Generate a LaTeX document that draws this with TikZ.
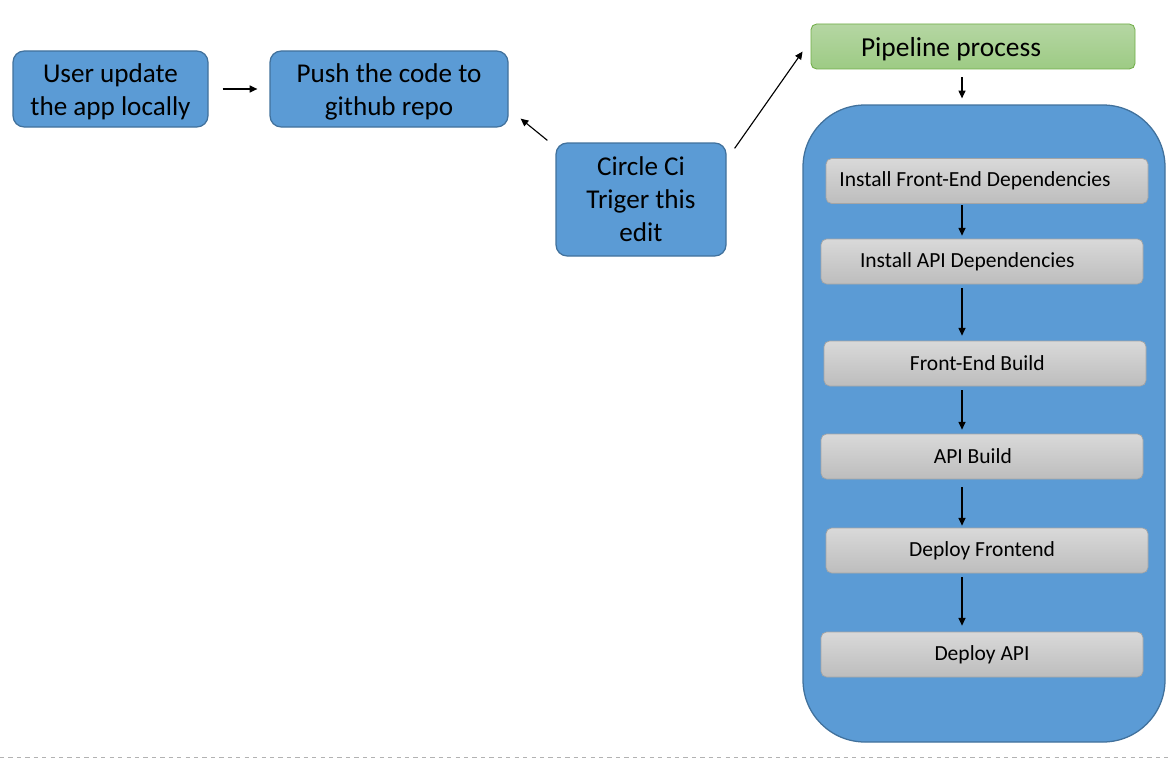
\documentclass[tikz,border=0pt]{standalone}
\usepackage{fontspec}
\setmainfont{Carlito}
\usetikzlibrary{arrows.meta}
\definecolor{boxblue}{HTML}{5B9BD5}
\definecolor{edgeblue}{HTML}{41719C}
\definecolor{greentop}{HTML}{B5D6A3}
\definecolor{greenbot}{HTML}{9DCB84}
\definecolor{greenedge}{HTML}{70AD47}
\definecolor{graytop}{HTML}{D9D9D9}
\definecolor{graybot}{HTML}{BDBDBD}
\definecolor{grayedge}{HTML}{A5A5A5}
\newcommand{\twolines}[2]{\raisebox{-2.2pt}[\height][\depth]{\begin{tabular}{@{}c@{}}#1\\#2\end{tabular}}}
\tikzset{
  bluebox/.style={draw=edgeblue, fill=boxblue, line width=0.9pt, rounded corners=8pt,
    align=center, font=\fontsize{19.3}{23.5}\selectfont, inner sep=0pt},
  stagebox/.style={draw=grayedge, line width=0.5pt, rounded corners=4pt,
    top color=graytop, bottom color=graybot,
    minimum width=322*0.025cm, minimum height=45*0.025cm,
    font=\fontsize{15.3}{18}\selectfont, inner sep=0pt},
  tip/.style={-{Triangle[length=5.5pt,width=5pt]}, line width=0.8pt}
}
\begin{document}
\begin{tikzpicture}[x=0.025cm, y=-0.025cm]
  \useasboundingbox (0,0) rectangle (1168,762);
  % left part
  \node[bluebox, minimum width=195*0.025cm, minimum height=76*0.025cm] (user) at (110.5,89) {\twolines{User update}{the app locally}};
  \node[bluebox, minimum width=238*0.025cm, minimum height=76*0.025cm] (push) at (389,89) {\twolines{Push the code to}{github repo}};
  \node[bluebox, minimum width=170*0.025cm, minimum height=113*0.025cm] (circle) at (641,199.5) {Circle Ci\\Triger this\\edit};
  % pipeline
  \node[draw=greenedge, line width=0.6pt, rounded corners=4pt, top color=greentop, bottom color=greenbot,
    minimum width=324*0.025cm, minimum height=45*0.025cm, inner sep=0pt] (pipe) at (973,46.5) {};
  \node[font=\fontsize{19.5}{22}\selectfont] (pipetext) at (951,49) {Pipeline process};
  \node[draw=edgeblue, fill=boxblue, line width=0.9pt, rounded corners=1.55cm,
    minimum width=362*0.025cm, minimum height=637*0.025cm, inner sep=0pt] (stages) at (984,423.5) {};
  \coordinate (axis) at (962,0);
  \node[stagebox] (s1) at (987,181) {\hspace*{-17pt}Install Front-End Dependencies};
  \node[stagebox] (s2) at (982,261.5) {\hspace*{-21pt}Install API Dependencies};
  \node[stagebox] (s3) at (985,363.5) {\hspace*{-11pt}Front-End Build};
  \node[stagebox] (s4) at (982,456.5) {\hspace*{-13pt}API Build};
  \node[stagebox] (s5) at (987,550.5) {\hspace*{-7pt}Deploy Frontend};
  \node[stagebox] (s6) at (982,654.5) {Deploy API};
  \begin{scope}[tip]
    \draw ([shift={(14,0)}]user.east) to ([shift={(-12,0)}]push.west);
    \draw ([shift={(-8,-2)}]circle.north west) to ([shift={(12,-9)}]push.south east);
    \draw ([shift={(8,6)}]circle.north east) to ([shift={(-8,28)}]pipe.north west);
    \draw ([shift={(0,8)}]pipe.south -| axis) to ([shift={(0,-6)}]stages.north -| axis);
    \draw ([shift={(0,1.5)}]s1.south -| axis) to ([shift={(0,-3)}]s2.north -| axis);
    \draw ([shift={(0,4)}]s2.south -| axis) to ([shift={(0,-5)}]s3.north -| axis);
    \draw ([shift={(0,4)}]s3.south -| axis) to ([shift={(0,-4)}]s4.north -| axis);
    \draw ([shift={(0,8)}]s4.south -| axis) to ([shift={(0,-2)}]s5.north -| axis);
    \draw ([shift={(0,4)}]s5.south -| axis) to ([shift={(0,-6)}]s6.north -| axis);
  \end{scope}
  \draw[gray!60, dashed, line width=0.5pt] (0,757) -- (1168,757);
\end{tikzpicture}
\end{document}
